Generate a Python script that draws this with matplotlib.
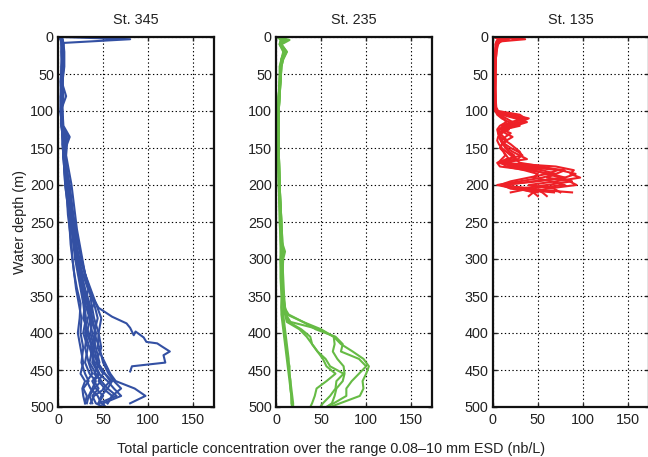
import numpy as np
import matplotlib
matplotlib.use("Agg")
import matplotlib.pyplot as plt

plt.rcParams['font.family'] = ['Liberation Sans', 'DejaVu Sans']

nan = np.nan

# --- St. 345 (blue) ---------------------------------------------------------
depth_345 = [0, 3, 8, 20, 40, 60, 80, 100, 120, 135, 145, 160, 180, 200, 220,
             240, 260, 280, 300, 320, 340, 360, 380, 400, 420, 440, 455, 465,
             475, 485, 495, 500]
conc_345 = [
    [2, 80, 6, 5, 6, 4, 5, 4, 5, 6, 7, 7, 9, 11, 13, 15, 17, 19, 22, 25, 29, 34, 38, 36, 40, 44, 52, 60, 55, 48, 45, nan],
    [3, 4, 5, 6, 5, 4, 9, 3, 4, 12, 8, 6, 8, 10, 12, 14, 16, 18, 20, 24, 28, 32, 36, 42, 40, 38, 45, 55, 62, 70, 50, 52],
    [1, 3, 4, 4, 4, 3, 3, 3, 4, 5, 6, 6, 7, 8, 10, 12, 13, 15, 16, 18, 20, 23, 26, 25, 28, 26, 30, 34, 28, 32, 30, nan],
    [2, 5, 6, 7, 7, 5, 4, 5, 6, 13, 10, 9, 12, 15, 17, 19, 21, 24, 27, 30, 34, 40, 44, 40, 46, 50, 56, 62, 70, 60, 55, nan],
    [3, 4, 4, 5, 5, 4, 5, 4, 5, 7, 9, 7, 9, 11, 14, 16, 18, 20, 23, 27, 35, 40, 33, 30, 35, 40, 45, 38, 42, 50, 45, nan],
    [2, 3, 5, 5, 6, 5, 3, 3, 4, 6, 5, 6, 8, 10, 12, 14, 16, 19, 21, 24, 27, 30, 28, 34, 38, 35, 42, 48, 40, 35, 38, nan],
    [1, 4, 5, 6, 4, 4, 6, 4, 5, 6, 6, 7, 8, 11, 13, 15, 18, 20, 24, 30, 36, 42, 48, 45, 44, 52, 58, 64, 85, 97, 80, nan],
    [2, 5, 4, 4, 5, 4, 5, 4, 4, 5, 6, 6, 7, 8, 10, 11, 13, 14, 16, 18, 21, 25, 24, 22, 25, 28, 25, 30, 27, 28, 30, nan],
    [3, 4, 5, 5, 4, 5, 4, 5, 5, 8, 6, 8, 10, 13, 15, 17, 20, 23, 26, 30, 35, 37, 40, 45, 48, 42, 50, 45, 52, 40, 36, nan],
    [2, 3, 4, 4, 4, 3, 4, 3, 4, 5, 5, 6, 7, 9, 11, 13, 15, 17, 19, 22, 25, 28, 30, 32, 30, 34, 38, 32, 36, 44, 48, 53],
    [2, 4, 6, 6, 5, 5, 5, 4, 5, 6, 7, 8, 10, 12, 14, 16, 19, 22, 26, 30, 34, 30, 35, 38, 42, 46, 40, 48, 55, 65, 45, nan],
    [1, 3, 5, 5, 5, 4, 4, 4, 5, 10, 7, 6, 8, 10, 12, 13, 15, 18, 20, 23, 26, 29, 31, 28, 33, 30, 35, 42, 38, 34, 32, nan],
    [2, 4, 5, 6, 6, 5, 5, 4, 5, 6, 6, 7, 9, 11, 13, 15, 17, 20, 22, 26, 30, 35, 38, 42, 36, 44, 52, 58, 50, 60, 55, nan],
    [3, 5, 5, 4, 5, 4, 4, 4, 4, 6, 6, 7, 9, 10, 12, 14, 17, 19, 22, 25, 28, 33, 36, 32, 38, 40, 46, 40, 45, 38, 42, 50],
]
# one profile with the strong excursion around 420 m
out345_depth = [0, 20, 60, 100, 140, 180, 220, 260, 300, 340, 355, 366, 378, 387,
                393, 403, 398, 406, 412, 414, 418, 425, 430, 440, 445, 452]
out345_conc = [3, 5, 4, 4, 5, 8, 12, 16, 22, 33, 40, 45, 60, 76,
               80, 84, 86, 95, 98, 110, 115, 124, 117, 119, 82, 80]

# --- St. 235 (green) --------------------------------------------------------
depth_235 = [0, 4, 10, 20, 30, 40, 60, 80, 100, 150, 200, 250, 275, 290, 300,
             325, 350, 365, 375, 385, 395, 405, 415, 425, 435, 445, 455, 465,
             475, 485, 495, 500]
conc_235 = [
    [2, 15, 6, 12, 8, 6, 5, 4, 3, 3, 4, 6, 6, 7, 6, 7, 8, 10, 12, 30, 50, 64, 72, 85, 97, 103, 100, 96, 97, 93, 71, 60],
    [3, 8, 5, 10, 7, 5, 5, 4, 3, 3, 4, 5, 6, 6, 6, 7, 8, 9, 14, 30, 44, 66, 74, 72, 92, 100, 92, 84, 78, 78, 64, 56],
    [2, 6, 4, 9, 6, 5, 4, 3, 3, 2, 3, 5, 5, 6, 5, 6, 7, 9, 11, 14, 28, 38, 40, 46, 55, 60, 75, 67, 66, 60, 52, 49],
    [3, 10, 5, 11, 7, 6, 5, 4, 3, 3, 4, 6, 7, 8, 7, 8, 9, 10, 10, 12, 26, 34, 40, 46, 52, 56, 66, 56, 45, 43, 40, 38],
    [2, 7, 5, 10, 7, 5, 4, 4, 3, 3, 4, 5, 6, 10, 8, 7, 8, 9, 11, 16, 48, 64, 65, 63, 68, 75, 76, 74, 67, 65, 62, 56],
    [2, 12, 5, 9, 6, 5, 4, 3, 2, 2, 4, 6, 7, 7, 7, 7, 8, 8, 8, 9, 10, 11, 12, 13, 14, 14, 15, 16, 16, 17, 18, 18],
    [3, 8, 6, 12, 8, 6, 5, 3, 3, 3, 4, 5, 6, 6, 6, 6, 7, 6, 6, 7, 8, 9, 10, 11, 12, 13, 14, 15, 16, 17, 17, 18],
    [2, 5, 4, 8, 6, 4, 4, 3, 2, 2, 3, 4, 5, 5, 5, 5, 6, 6, 7, 8, 9, 10, 11, 12, 13, 15, 15, 16, 17, 18, 19, 19],
]

# --- St. 135 (red) ----------------------------------------------------------
depth_135 = [0, 3, 6, 10, 20, 40, 60, 80, 95, 100, 105, 110, 115, 120, 125, 130,
             135, 140, 145, 150, 155, 160, 165, 170, 175, 180, 185, 190, 195,
             200, 205, 210, 215]
conc_135 = [
    [3, 36, 8, 5, 4, 3, 3, 3, 3, 4, 22, 40, 30, 12, 8, 6, 8, 10, 14, 20, 28, 33, 15, 6, 30, 75, 92, 80, 45, 12, 35, 88, nan],
    [2, 10, 6, 4, 3, 3, 2, 3, 4, 6, 30, 36, 20, 10, 18, 10, 8, 9, 11, 16, 22, 30, 38, 10, 70, 90, 86, 97, 70, 40, 68, 75, nan],
    [4, 15, 9, 5, 4, 3, 3, 2, 3, 4, 10, 25, 34, 22, 10, 20, 14, 10, 12, 14, 18, 24, 20, 8, 25, 55, 70, 60, 85, 93, 60, 45, 40],
    [2, 8, 5, 4, 3, 2, 2, 3, 3, 3, 8, 15, 22, 14, 6, 8, 12, 16, 10, 9, 12, 15, 18, 5, 8, 40, 65, 80, 50, 10, 20, 68, nan],
    [3, 12, 7, 5, 4, 3, 3, 3, 2, 3, 18, 28, 38, 25, 14, 9, 6, 5, 7, 10, 15, 20, 25, 30, 55, 72, 60, 40, 20, 8, 45, 55, 60],
    [2, 6, 4, 3, 3, 2, 2, 2, 3, 3, 5, 10, 18, 30, 12, 7, 9, 14, 20, 25, 30, 32, 28, 10, 15, 35, 50, 45, 65, 80, 40, 20, nan],
    [5, 18, 8, 6, 4, 3, 3, 3, 3, 5, 14, 33, 26, 18, 9, 14, 22, 15, 10, 8, 12, 14, 10, 6, 45, 80, 70, 55, 30, 5, 25, 50, nan],
    [3, 9, 5, 4, 3, 3, 2, 2, 2, 3, 6, 12, 15, 8, 5, 6, 7, 9, 12, 15, 18, 22, 26, 12, 20, 45, 60, 75, 88, 60, 30, 45, 50],
]

stations = ["St. 345", "St. 235", "St. 135"]
colors = ["#3350a3", "#66bb45", "#ee2027"]

fig = plt.figure(figsize=(6.48, 4.57), dpi=100)
lefts = [58 / 648, 276 / 648, 492.7 / 648]
bottom = 1 - 407 / 457
height = 370 / 457
width = 156 / 648

data = [(depth_345, conc_345), (depth_235, conc_235), (depth_135, conc_135)]
fs = 10.4

for i, (name, col) in enumerate(zip(stations, colors)):
    ax = fig.add_axes([lefts[i], bottom, width, height])
    depth, profiles = data[i]
    for prof in profiles:
        ax.plot(prof, depth, color=col, lw=1.5)
    if i == 0:
        ax.plot(out345_conc, out345_depth, color=col, lw=1.5)
    ax.set_xlim(0, 173)
    ax.set_ylim(500, 0)
    ax.set_xticks([0, 50, 100, 150])
    ax.set_yticks(np.arange(0, 501, 50))
    ax.grid(True, color='k', linestyle=(0, (1.2, 2.2)), linewidth=0.8)
    ax.set_axisbelow(True)
    ax.tick_params(direction='in', length=3, width=1, top=True, right=True,
                   labelsize=fs, colors='#222222', pad=3)
    ax.tick_params(axis='x', pad=4)
    for sp in ax.spines.values():
        sp.set_linewidth(1.6)
        sp.set_color('#111111')
    ax.set_title(name, fontsize=fs, color='#222222', pad=9)

fig.text(20 / 648, 1 - 222 / 457, "Water depth (m)", rotation=90,
         ha='center', va='center', fontsize=fs, color='#222222')
fig.text(331 / 648, 1 - 449 / 457,
         "Total particle concentration over the range 0.08\u201310 mm ESD (nb/L)",
         ha='center', va='center', fontsize=fs, color='#222222')

fig.savefig("out.png", dpi=100)
